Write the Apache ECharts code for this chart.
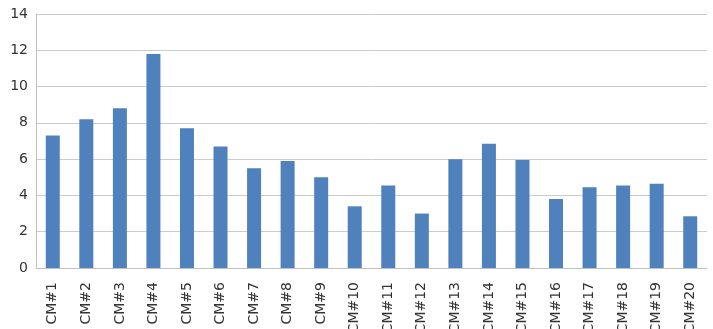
<!DOCTYPE html>
<html><head><meta charset="utf-8">
<script src="https://cdn.jsdelivr.net/npm/echarts@6/dist/echarts.min.js"></script>
<style>html,body{margin:0;padding:0;background:#fff}#c{width:713px;height:329px}</style>
</head><body><div id="c"></div>
<script>
const categories = ['CM#1','CM#2','CM#3','CM#4','CM#5','CM#6','CM#7','CM#8','CM#9','CM#10','CM#11','CM#12','CM#13','CM#14','CM#15','CM#16','CM#17','CM#18','CM#19','CM#20'];
const values = [7.3, 8.2, 8.8, 11.8, 7.7, 6.7, 5.5, 5.9, 5.0, 3.4, 4.55, 3.0, 6.0, 6.85, 5.95, 3.8, 4.45, 4.55, 4.65, 2.85];
const yTicks = [0, 2, 4, 6, 8, 10, 12, 14];

const chart = echarts.init(document.getElementById('c'), null, {renderer: 'canvas'});
chart.setOption({
  animation: false,
  grid: {left: 36, right: 6, top: 14, bottom: 61, containLabel: false, outerBoundsMode: 'none'},
  xAxis: {
    type: 'category', data: categories,
    axisLine: {show: true, lineStyle: {color: '#c0c0c0', width: 1}},
    axisTick: {show: false},
    axisLabel: {rotate: 90, margin: 14, fontFamily: 'DejaVu Sans', fontSize: 14, color: '#333333', interval: 0}
  },
  yAxis: {
    type: 'value', min: yTicks[0], max: yTicks[yTicks.length-1], interval: 2,
    axisLine: {show: true, lineStyle: {color: '#c0c0c0', width: 1}},
    axisTick: {show: false},
    splitLine: {show: true, lineStyle: {color: '#cccccc', width: 1}},
    axisLabel: {margin: 8, fontFamily: 'DejaVu Sans', fontSize: 14, color: '#333333'}
  },
  series: [{
    type: 'bar', data: values, barWidth: 14,
    itemStyle: {color: '#4f81bd'}
  }]
});
</script></body></html>
